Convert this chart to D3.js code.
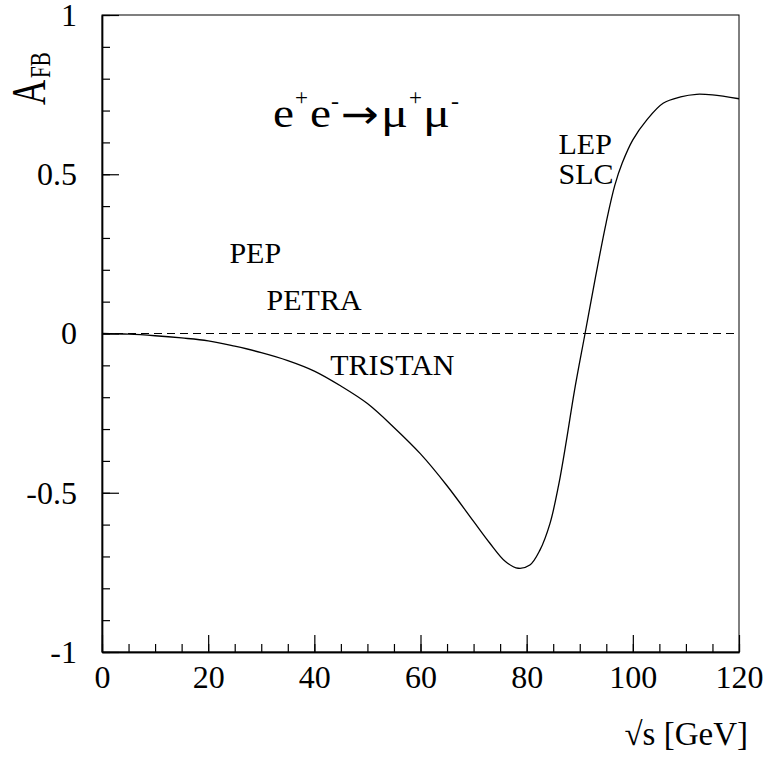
<!DOCTYPE html>
<html>
<head>
<meta charset="utf-8">
<script src="https://cdn.jsdelivr.net/npm/d3@7"></script>
<style>
  html, body { margin: 0; padding: 0; background: #fff; }
  svg { display: block; }
  svg text { font-family: "Liberation Serif", "DejaVu Serif", serif; fill: #000; }
</style>
</head>
<body>
<svg id="chart" width="768" height="757"></svg>
<script>
// ---- data ----
const sqrtS = [0, 5, 10, 15, 20, 25, 30, 35, 40, 45, 50, 55, 60, 65, 70, 73, 76, 78.4, 80.6, 82.5, 84.4, 86, 87.5, 89, 91, 93, 95, 96.6, 98, 100, 102.6, 105.7, 109, 112, 115, 120];
const afb   = [0, -0.002, -0.007, -0.014, -0.023, -0.040, -0.060, -0.085, -0.118, -0.165, -0.220, -0.295, -0.378, -0.478, -0.590, -0.657, -0.716, -0.737, -0.727, -0.680, -0.596, -0.478, -0.335, -0.180, 0.0, 0.180, 0.350, 0.465, 0.535, 0.608, 0.670, 0.723, 0.743, 0.751, 0.749, 0.737];
const xMajorTicks = [0, 20, 40, 60, 80, 100, 120];
const xMinorTicks = d3.range(0, 121, 5);
const yMajorTicks = [-1, -0.5, 0, 0.5, 1];
const yTickLabels = ["-1", "-0.5", "0", "0.5", "1"];
const yMinorTicks = d3.range(-10, 11, 1).map(d => d / 10);
const experiments = ["PEP", "PETRA", "TRISTAN", "LEP", "SLC"];
const expPos = [[24, 0.22], [31, 0.075], [43, -0.13], [86, 0.565], [86, 0.47]];

// ---- layout ----
const svg = d3.select("#chart");
const L = 102, R = 739, T = 15, B = 652;
const FONT = "Liberation Serif, DejaVu Serif, serif";
const x = d3.scaleLinear().domain([0, 120]).range([L, R]);
const y = d3.scaleLinear().domain([-1, 1]).range([B, T]);

// frame (top/right)
svg.append("rect")
  .attr("x", L).attr("y", T).attr("width", R - L).attr("height", B - T)
  .attr("fill", "none").attr("stroke", "#000").attr("stroke-width", 1);

// zero dashed line
svg.append("line")
  .attr("x1", x(0)).attr("x2", x(120)).attr("y1", y(0)).attr("y2", y(0))
  .attr("stroke", "#000").attr("stroke-width", 1).attr("stroke-dasharray", "8,5");

// x axis: minor then major
svg.append("g").attr("transform", `translate(0,${B})`)
  .call(d3.axisBottom(x).tickValues(xMinorTicks).tickSize(-8).tickSizeOuter(0).tickFormat(""));
svg.append("g").attr("transform", `translate(0,${B})`)
  .call(d3.axisBottom(x).tickValues(xMajorTicks).tickSize(-17).tickSizeOuter(0).tickPadding(13).tickFormat(d3.format("d")));
// y axis
svg.append("g").attr("transform", `translate(${L},0)`)
  .call(d3.axisLeft(y).tickValues(yMinorTicks).tickSize(-8).tickSizeOuter(0).tickFormat(""));
svg.append("g").attr("transform", `translate(${L},0)`)
  .call(d3.axisLeft(y).tickValues(yMajorTicks).tickSize(-17).tickSizeOuter(0).tickPadding(25)
    .tickFormat((d, i) => yTickLabels[i]));

svg.selectAll("g").attr("font-family", FONT);
svg.selectAll(".domain").attr("stroke", "#000").attr("stroke-width", 1.4);
svg.selectAll(".tick line").attr("stroke", "#000").attr("stroke-width", 1.2);
svg.selectAll(".tick text").attr("font-family", FONT).attr("font-size", 32).attr("fill", "#000");

// curve
const line = d3.line().x((d, i) => x(sqrtS[i])).y(d => y(d)).curve(d3.curveCatmullRom.alpha(0.5));
svg.append("path").datum(afb)
  .attr("d", line).attr("fill", "none").attr("stroke", "#000").attr("stroke-width", 1.3);

// axis titles
svg.append("text")
  .attr("x", 748).attr("y", 745).attr("text-anchor", "end")
  .attr("font-size", 33).text("\u221As [GeV]");

const yt = svg.append("g").attr("transform", "translate(45,105) rotate(-90) scale(1,1.4)");
yt.append("text").attr("x", 0).attr("y", 0).attr("font-size", 35).text("A");
yt.append("text").attr("x", 27).attr("y", 3.6).attr("font-size", 21).text("FB");

// reaction label e+e- -> mu+mu-
const rParts = [
  { t: "e",      x: 273, y: 127, fs: 40, w: 21, f: null },
  { t: "+",      x: 295, y: 105, fs: 23, w: 13, f: null },
  { t: "e",      x: 310, y: 127, fs: 40, w: 21, f: null },
  { t: "-",      x: 331, y: 109, fs: 24, w: 8,  f: null },
  { t: "\u2192", x: 341, y: 128, fs: 40, w: 38, f: "DejaVu Sans" },
  { t: "\u03BC", x: 381, y: 127, fs: 40, w: 27, f: null },
  { t: "+",      x: 409, y: 105, fs: 23, w: 13, f: null },
  { t: "\u03BC", x: 423, y: 127, fs: 40, w: 27, f: null },
  { t: "-",      x: 451, y: 109, fs: 24, w: 8,  f: null }
];
svg.selectAll("text.rx").data(rParts).enter().append("text")
  .attr("class", "rx")
  .attr("x", d => d.x).attr("y", d => d.y)
  .attr("font-size", d => d.fs)
  .style("font-family", d => d.f ? d.f : null)
  .attr("textLength", d => d.w).attr("lengthAdjust", "spacingAndGlyphs")
  .text(d => d.t);

// experiment labels
svg.selectAll("text.exp").data(experiments).enter().append("text")
  .attr("class", "exp")
  .attr("x", (d, i) => x(expPos[i][0]))
  .attr("y", (d, i) => y(expPos[i][1]))
  .attr("font-size", 30)
  .text(d => d);
</script>
</body>
</html>
